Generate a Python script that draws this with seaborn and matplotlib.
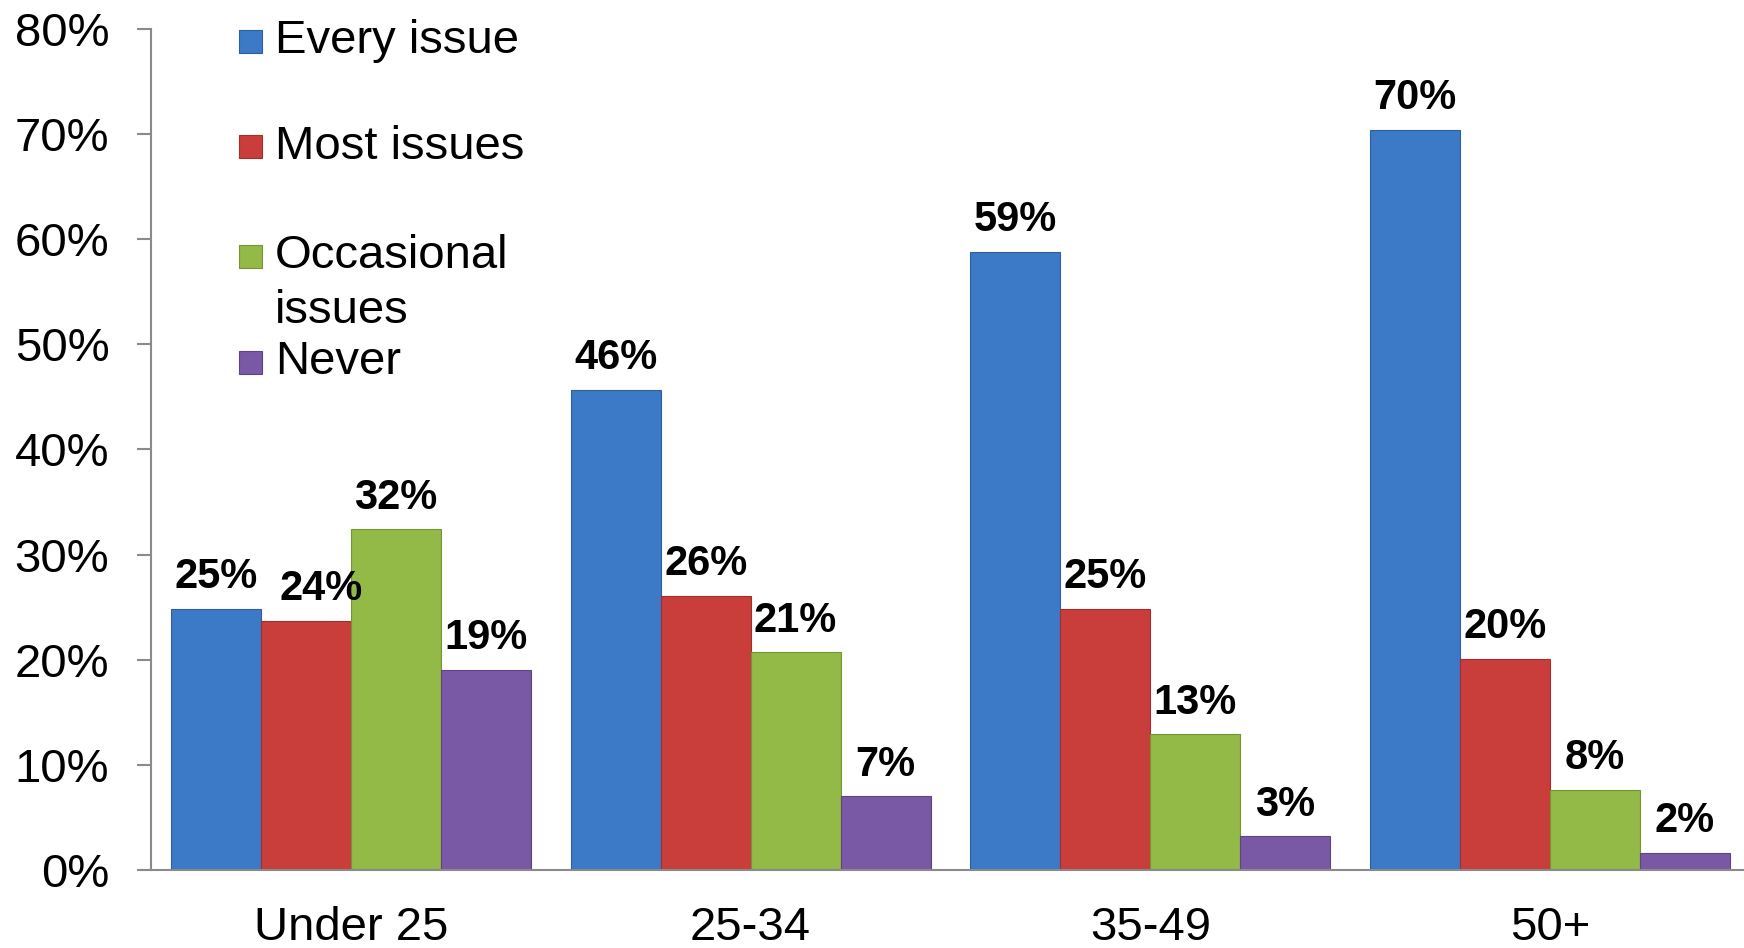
import matplotlib
matplotlib.use("Agg")
import matplotlib.pyplot as plt
from matplotlib.patches import Rectangle
import seaborn as sns
import pandas as pd

categories = ["Under 25", "25-34", "35-49", "50+"]
series = ["Every issue", "Most issues", "Occasional\nissues", "Never"]
every_issue = [24.8, 45.7, 58.8, 70.4]
most_issues = [23.7, 26.1, 24.8, 20.1]
occasional_issues = [32.4, 20.7, 12.9, 7.6]
never = [19.0, 7.0, 3.2, 1.6]
yticks = [0, 10, 20, 30, 40, 50, 60, 70, 80]
colors = ["#3C79C6", "#C93D3B", "#93B946", "#7958A6"]
edge_colors = ["#2F5F9E", "#A02F2D", "#759436", "#5E4483"]

values = [every_issue, most_issues, occasional_issues, never]
rows = []
for s, vals in zip(series, values):
    for c, v in zip(categories, vals):
        rows.append({"cat": c, "series": s, "value": v})
df = pd.DataFrame(rows)

sns.set_theme(style="white")
plt.rcParams['font.family'] = ['Liberation Sans', 'DejaVu Sans']
plt.rcParams['text.color'] = 'black'
plt.rcParams['xtick.labelcolor'] = 'black'
plt.rcParams['ytick.labelcolor'] = 'black'

fig = plt.figure(figsize=(17.44, 9.48), dpi=100)
ax = fig.add_axes([151/1744, 78/948, 1599/1744, 841/948])

sns.barplot(data=df, x="cat", y="value", hue="series", order=categories,
            hue_order=series, palette=colors, saturation=1, width=0.9,
            edgecolor="none", linewidth=0, ax=ax, legend=False)

for si, container in enumerate(ax.containers):
    for ci, bar in enumerate(container):
        bar.set_edgecolor(edge_colors[si])
        bar.set_linewidth(0.8)
        h = bar.get_height()
        dx = 11 if (si == 1 and ci == 0) else 0
        ax.annotate(f"{h:.0f}%", (bar.get_x() + bar.get_width() / 2, h),
                    xytext=(dx, 15), textcoords="offset points",
                    ha="center", va="baseline", fontsize=30,
                    fontweight="bold", color="black")

ax.set_ylim(0, 80)
ax.set_xlim(-0.5, 3.5)
ax.set_yticks(yticks)
ax.set_yticklabels([f"{t}%" for t in yticks])
ax.set_xticks(range(len(categories)))
ax.set_xticklabels(categories)
ax.set_xticks([-0.5, 0.5, 1.5, 2.5, 3.5], minor=True)
ax.tick_params(axis="x", which="major", length=0, pad=26, labelsize=34, labelcolor="black")
ax.tick_params(axis="x", which="minor", length=10, width=1.5, color="#8A8A8A", direction="out")
ax.tick_params(axis="y", length=10, width=1.5, color="#8A8A8A", pad=20, labelsize=34,
               direction="out", left=True, labelcolor="black")
ax.set_xlabel("")
ax.set_ylabel("")
for sp in ["top", "right"]:
    ax.spines[sp].set_visible(False)
for sp in ["left", "bottom"]:
    ax.spines[sp].set_color("#8A8A8A")
    ax.spines[sp].set_linewidth(1.5)

# legend (manual, to match stacked layout)
leg_y = [41, 147, 256, 362]
for s, col, ec, yy in zip(series, colors, edge_colors, leg_y):
    fy = 1 - yy / 948
    fig.add_artist(Rectangle((239/1744, fy - 11.5/948), 23/1744, 23/948,
                             transform=fig.transFigure, facecolor=col,
                             edgecolor=ec, linewidth=0.8))
    first = s.split("\n")[0]
    rest = s.split("\n")[1:]
    fig.text(275/1744, fy, first, fontsize=34, va="center", ha="left", color="black")
    for k, r in enumerate(rest):
        fig.text(275/1744, 1 - (yy + 55 * (k + 1)) / 948, r, fontsize=34,
                 va="center", ha="left", color="black")

fig.savefig("out.png", dpi=100)
